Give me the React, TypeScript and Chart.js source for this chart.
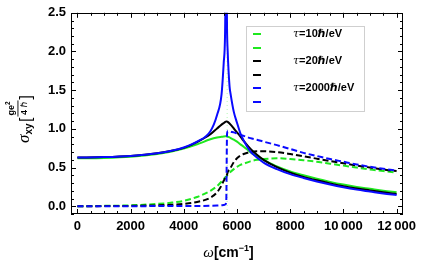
import React, { useEffect, useRef } from "react";
import { Chart, registerables } from "chart.js";

Chart.register(...registerables);

// ---------- data ----------
const OMEGA = [
  0, 1000, 2000, 3000, 3500, 4000, 4500, 5000, 5250, 5420, 5500, 5550, 5595,
  5625, 5650, 5720, 5760, 5880, 6000, 6130, 6250, 6500, 6750, 7000, 7500, 8000,
  8500, 9000, 9500, 10000, 10500, 11000, 11500, 12000,
];

const GREEN_SOLID = [
  0.62, 0.625, 0.64, 0.675, 0.705, 0.745, 0.8, 0.865, 0.888, 0.898, 0.902, 0.904,
  0.904, 0.902, 0.899, 0.89, 0.882, 0.86, 0.835, 0.8, 0.77, 0.7, 0.645, 0.6, 0.515,
  0.45, 0.4, 0.355, 0.315, 0.28, 0.25, 0.225, 0.2, 0.18,
];
const GREEN_DASHED = [
  0.0, 0.005, 0.012, 0.03, 0.045, 0.07, 0.12, 0.2, 0.26, 0.32, 0.35, 0.37,
  0.385, 0.395, 0.41, 0.43, 0.445, 0.48, 0.51, 0.535, 0.55, 0.58, 0.6, 0.61,
  0.62, 0.61, 0.595, 0.575, 0.55, 0.525, 0.5, 0.475, 0.455, 0.435,
];
const BLACK_SOLID = [
  0.63, 0.635, 0.65, 0.685, 0.715, 0.755, 0.83, 0.93, 1.005, 1.055, 1.075, 1.088,
  1.095, 1.095, 1.09, 1.07, 1.055, 1.005, 0.955, 0.9, 0.845, 0.745, 0.665, 0.6, 0.505,
  0.435, 0.38, 0.335, 0.295, 0.26, 0.23, 0.205, 0.18, 0.16,
];
const BLACK_DASHED = [
  0.0, 0.002, 0.005, 0.012, 0.018, 0.03, 0.055, 0.11, 0.18, 0.27, 0.33, 0.36,
  0.39, 0.41, 0.44, 0.48, 0.5, 0.57, 0.62, 0.655, 0.675, 0.7, 0.71, 0.71, 0.7,
  0.675, 0.645, 0.615, 0.585, 0.555, 0.525, 0.5, 0.475, 0.455,
];
const BLUE_SOLID = [
  0.63, 0.635, 0.65, 0.685, 0.715, 0.76, 0.835, 0.97, 1.18, 1.45, 1.85, 2.2,
  3.5, 2.3, 2.0, 1.55, 1.45, 1.22, 1.08, 0.94, 0.85, 0.71, 0.63, 0.565, 0.48,
  0.415, 0.365, 0.32, 0.28, 0.245, 0.215, 0.19, 0.165, 0.145,
];
const BLUE_DASHED = [
  0.0, 0.0, 0.001, 0.002, 0.002, 0.003, 0.004, 0.006, 0.009, 0.013, 0.016,
  0.022, 0.05, 0.93, 0.97, 0.97, 0.965, 0.955, 0.94, 0.925, 0.91, 0.88, 0.86,
  0.835, 0.79, 0.74, 0.69, 0.65, 0.61, 0.575, 0.54, 0.51, 0.485, 0.46,
];

const RESONANCE = 5630;

const X_TICKS = [0, 2000, 4000, 6000, 8000, 10000, 12000];
const Y_TICKS = [0, 0.5, 1.0, 1.5, 2.0, 2.5];
const X_MINOR_STEP = 500;
const Y_MINOR_STEP = 0.1;

const LEGEND_LABELS = ["τ=10ℏ/eV", "", "τ=20ℏ/eV", "", "τ=2000ℏ/eV", ""];

const GREEN = "#1fe81f";
const BLACK = "#000000";
const BLUE = "#0a0aff";

const SANS = "'Liberation Sans', Arial, sans-serif";
const SERIF = "'Liberation Serif', 'Times New Roman', serif";
const GREEK = "'DejaVu Serif', serif";
const HBAR = "'DejaVu Sans', sans-serif";

const SERIES = [
  { values: GREEN_SOLID, color: GREEN, dash: [] as number[] },
  { values: GREEN_DASHED, color: GREEN, dash: [6, 3] },
  { values: BLACK_SOLID, color: BLACK, dash: [] as number[] },
  { values: BLACK_DASHED, color: BLACK, dash: [6, 3] },
  { values: BLUE_SOLID, color: BLUE, dash: [] as number[] },
  { values: BLUE_DASHED, color: BLUE, dash: [6, 3] },
];

function drawRich(ctx: CanvasRenderingContext2D, text: string, x: number, y: number, size: number) {
  let cx = x;
  for (const ch of Array.from(text)) {
    if (ch === "τ") ctx.font = `italic ${size}px ${GREEK}`;
    else if (ch === "ℏ") ctx.font = `italic bold ${size}px ${HBAR}`;
    else ctx.font = `bold ${size}px ${SANS}`;
    ctx.fillText(ch, cx, y);
    cx += ctx.measureText(ch).width;
  }
}

const framePlugin = {
  id: "mmaFrame",
  afterDatasetsDraw(chart: any) {
    const { ctx, chartArea } = chart;
    const xs = chart.scales.x;
    const ys = chart.scales.y;
    const { left, right, top, bottom } = chartArea;
    ctx.save();
    ctx.strokeStyle = "#000";
    ctx.lineWidth = 1;
    ctx.setLineDash([]);
    ctx.strokeRect(Math.round(left) + 0.5, Math.round(top) + 0.5, Math.round(right - left) - 1, Math.round(bottom - top) - 1);
    ctx.beginPath();
    for (let v = 0; v <= xs.max + 1e-9; v += X_MINOR_STEP) {
      const px = Math.round(xs.getPixelForValue(v)) + 0.5;
      const major = X_TICKS.includes(v);
      const len = major ? 5 : 3;
      ctx.moveTo(px, bottom);
      ctx.lineTo(px, bottom - len);
      ctx.moveTo(px, top);
      ctx.lineTo(px, top + len);
    }
    for (let i = -1; i <= 25; i++) {
      const v = i * Y_MINOR_STEP;
      if (v < ys.min - 1e-9 || v > ys.max + 1e-9) continue;
      const py = Math.round(ys.getPixelForValue(v)) + 0.5;
      const major = i % 5 === 0;
      const len = major ? 5 : 3;
      ctx.moveTo(left, py);
      ctx.lineTo(left + len, py);
      ctx.moveTo(right, py);
      ctx.lineTo(right - len, py);
    }
    ctx.stroke();
    ctx.restore();
  },
  afterDraw(chart: any) {
    const { ctx } = chart;
    ctx.save();
    ctx.fillStyle = "#000";
    ctx.textAlign = "left";
    ctx.textBaseline = "alphabetic";

    // ---- x title: ω[cm^-1]
    const pieces: { t: string; font: string; dy: number }[] = [
      { t: "ω", font: `italic 15px ${SERIF}`, dy: 0 },
      { t: "[cm", font: `bold 14px ${SANS}`, dy: 0 },
      { t: "−1", font: `bold 9px ${SANS}`, dy: -6 },
      { t: "]", font: `bold 14px ${SANS}`, dy: 0 },
    ];
    let total = 0;
    for (const p of pieces) {
      ctx.font = p.font;
      total += ctx.measureText(p.t).width;
    }
    let cx = 228.5 - total / 2;
    for (const p of pieces) {
      ctx.font = p.font;
      ctx.fillText(p.t, cx, 257 + p.dy);
      cx += ctx.measureText(p.t).width;
    }

    // ---- y title: σ_xy [ge²/4ℏ]
    ctx.save();
    ctx.rotate(-Math.PI / 2);
    let u = -143;
    ctx.font = `italic 17px ${SERIF}`;
    ctx.fillText("σ", u, 29);
    u += ctx.measureText("σ").width;
    ctx.font = `bold 10px ${SANS}`;
    ctx.fillText("xy", u, 32);
    u += ctx.measureText("xy").width + 1.5;
    ctx.font = `16px ${SANS}`;
    ctx.fillText("[", u, 31);
    u += ctx.measureText("[").width + 0.5;
    // fraction
    ctx.font = `bold 9px ${SANS}`;
    const wGe = ctx.measureText("ge").width;
    ctx.font = `bold 6.5px ${SANS}`;
    const w2 = ctx.measureText("2").width;
    const wNum = wGe + w2;
    ctx.font = `bold 9px ${SANS}`;
    const w4 = ctx.measureText("4 ").width;
    ctx.font = `italic 9px ${HBAR}`;
    const wH = ctx.measureText("ℏ").width;
    const wDen = w4 + wH;
    const wFrac = Math.max(wNum, wDen) + 3;
    const nx = u + (wFrac - wNum) / 2;
    ctx.font = `bold 9px ${SANS}`;
    ctx.fillText("ge", nx, 14);
    ctx.font = `bold 6.5px ${SANS}`;
    ctx.fillText("2", nx + wGe, 10);
    ctx.fillRect(u + 0.5, 17.5, wFrac - 1, 0.9);
    const dx = u + (wFrac - wDen) / 2;
    ctx.font = `bold 9px ${SANS}`;
    ctx.fillText("4 ", dx, 27);
    ctx.font = `italic 9px ${HBAR}`;
    ctx.fillText("ℏ", dx + w4, 27);
    u += wFrac + 0.5;
    ctx.font = `16px ${SANS}`;
    ctx.fillText("]", u, 31);
    ctx.restore();

    // ---- legend
    const bx = 246.5, by = 26.5, bw = 118, bh = 85;
    ctx.fillStyle = "#fff";
    ctx.fillRect(bx, by, bw, bh);
    ctx.strokeStyle = "#cfcfcf";
    ctx.lineWidth = 1;
    ctx.strokeRect(bx, by, bw, bh);
    const rowStep = 13.6;
    SERIES.forEach((s, i) => {
      const ry = 34 + i * rowStep;
      ctx.strokeStyle = s.color;
      ctx.lineWidth = 2;
      ctx.setLineDash([]);
      ctx.beginPath();
      ctx.moveTo(253, Math.round(ry));
      ctx.lineTo(261, Math.round(ry));
      ctx.stroke();
      const label = LEGEND_LABELS[i];
      if (label) {
        ctx.fillStyle = "#000";
        ctx.textBaseline = "middle";
        drawRich(ctx, label, 293, ry, 11);
        ctx.textBaseline = "alphabetic";
      }
    });
    ctx.restore();
  },
};

export default function App() {
  const ref = useRef<HTMLCanvasElement | null>(null);
  useEffect(() => {
    if (!ref.current) return;
    const datasets: any[] = SERIES.map((s, i) => ({
      label: `series${i}`,
      data: OMEGA.map((x, k) => ({ x, y: s.values[k] })),
      borderColor: s.color,
      borderWidth: 2,
      borderDash: s.dash,
      pointRadius: 0,
      fill: false,
      cubicInterpolationMode: "monotone",
      order: 10 - i,
    }));
    datasets.push({
      label: "resonance",
      data: [
        { x: RESONANCE, y: -0.1 },
        { x: RESONANCE, y: 2.5 },
      ],
      borderColor: "rgba(120,240,120,0.55)",
      borderWidth: 1,
      borderDash: [1, 3],
      pointRadius: 0,
      fill: false,
      order: 20,
    });
    const chart = new Chart(ref.current, {
      type: "line",
      data: { datasets },
      options: {
        animation: false,
        responsive: false,
        maintainAspectRatio: false,
        layout: { padding: { top: 10, right: 33, left: 0, bottom: 0 } },
        plugins: { legend: { display: false }, tooltip: { enabled: false } },
        scales: {
          x: {
            type: "linear",
            min: -240,
            max: 12240,
            grid: { display: false, drawTicks: false },
            border: { display: false },
            afterBuildTicks: (s: any) => {
              s.ticks = X_TICKS.map((v) => ({ value: v }));
            },
            afterFit: (s: any) => {
              s.height = 58;
            },
            ticks: {
              autoSkip: false,
              maxRotation: 0,
              padding: 5,
              color: "#000",
              font: { family: SANS, size: 13, weight: "bold" },
              callback: (v: any) => {
                const n = Number(v);
                if (n >= 10000) {
                  const s = String(n);
                  return s.slice(0, s.length - 3) + "\u2009" + s.slice(-3);
                }
                return String(n);
              },
            },
          },
          y: {
            type: "linear",
            min: -0.1,
            max: 2.5,
            grid: { display: false, drawTicks: false },
            border: { display: false },
            afterBuildTicks: (s: any) => {
              s.ticks = Y_TICKS.map((v) => ({ value: v }));
            },
            afterFit: (s: any) => {
              s.width = 71;
            },
            ticks: {
              autoSkip: false,
              padding: 5,
              color: "#000",
              font: { family: SANS, size: 13, weight: "bold" },
              callback: (v: any) => Number(v).toFixed(1),
            },
          },
        },
      },
      plugins: [framePlugin],
    });
    return () => chart.destroy();
  }, []);
  return (
    <div style={{ position: "absolute", left: 0, top: 0, width: 436, height: 272, background: "#fff" }}>
      <canvas ref={ref} width={436} height={272} style={{ display: "block" }} />
    </div>
  );
}
